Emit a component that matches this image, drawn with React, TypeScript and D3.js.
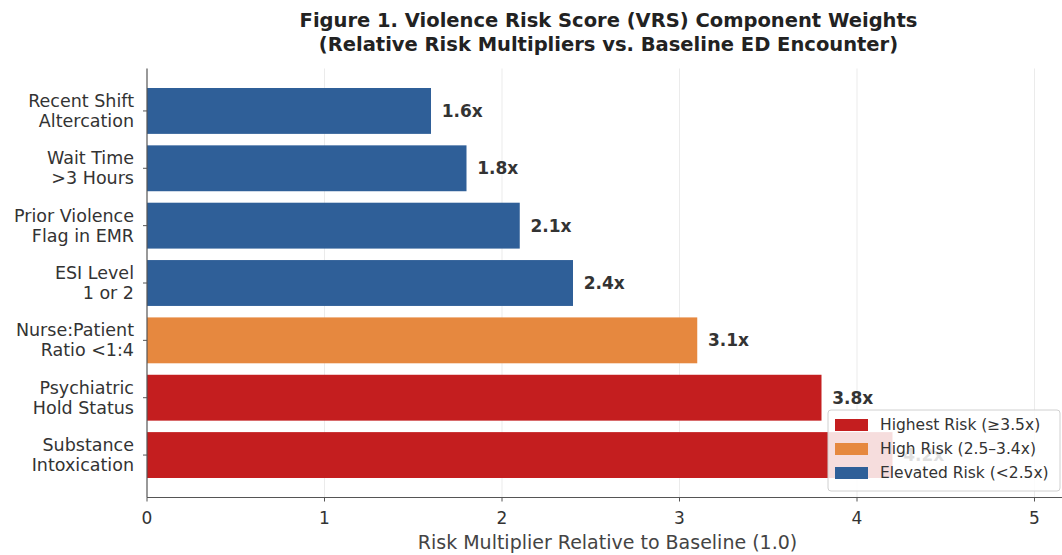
import React from "react";
import * as d3 from "d3";

const categories = [
  "Substance\nIntoxication",
  "Psychiatric\nHold Status",
  "Nurse:Patient\nRatio <1:4",
  "ESI Level\n1 or 2",
  "Prior Violence\nFlag in EMR",
  "Wait Time\n>3 Hours",
  "Recent Shift\nAltercation",
];
const values = [4.2, 3.8, 3.1, 2.4, 2.1, 1.8, 1.6];
const xTicks = [0, 1, 2, 3, 4, 5];
const legendLabels = ["Highest Risk (≥3.5x)", "High Risk (2.5–3.4x)", "Elevated Risk (<2.5x)"];
const legendColors = ["#c41e1f", "#e6883f", "#2f5f98"];

function colorFor(v: number) {
  if (v >= 3.5) return legendColors[0];
  if (v >= 2.5) return legendColors[1];
  return legendColors[2];
}

export default function App() {
  const W = 1062, H = 555;
  const left = 147, right = 1070, top = 68.5, bottom = 497.5;
  const x = d3.scaleLinear().domain([0, 5.2]).range([left, right]);
  const y = d3.scaleLinear().domain([-0.74, 6.74]).range([bottom, top]);
  const bandPx = Math.abs(y(1) - y(0));
  const barH = bandPx * 0.8;
  const font = "DejaVu Sans, sans-serif";
  const textCol = "#333333";

  return (
    <svg width={W} height={H} style={{ position: "absolute", left: 0, top: 0, background: "#fff" }} fontFamily={font}>
      {/* grid */}
      {xTicks.filter(t => t > 0).map(t => (
        <line key={"g" + t} x1={x(t)} x2={x(t)} y1={top} y2={bottom} stroke="#ebebeb" strokeWidth={1} />
      ))}
      {/* bars */}
      {values.map((v, i) => (
        <rect key={"b" + i} x={x(0)} y={y(i) - barH / 2} width={x(v) - x(0)} height={barH} fill={colorFor(v)} />
      ))}
      {/* value labels */}
      {values.map((v, i) => (
        <text key={"v" + i} x={x(v + 0.06)} y={y(i)} dy="0.35em" fontSize={17} fontWeight="bold" fill={textCol}>
          {v.toFixed(1) + "x"}
        </text>
      ))}
      {/* spines */}
      <line x1={left} x2={left} y1={top} y2={bottom} stroke="#555" strokeWidth={1.2} />
      <line x1={left} x2={right} y1={bottom} y2={bottom} stroke="#555" strokeWidth={1.2} />
      {/* x ticks */}
      {xTicks.map(t => (
        <g key={"xt" + t}>
          <line x1={x(t)} x2={x(t)} y1={bottom} y2={bottom + 4} stroke="#555" />
          <text x={x(t)} y={524} textAnchor="middle" fontSize={17} fill={textCol}>{t}</text>
        </g>
      ))}
      {/* y ticks */}
      {categories.map((c, i) => {
        const lines = c.split("\n");
        return (
          <g key={"yt" + i}>
            <line x1={left - 4} x2={left} y1={y(i)} y2={y(i)} stroke="#555" />
            {lines.map((ln, j) => (
              <text key={j} x={left - 13} y={y(i) + (j - (lines.length - 1) / 2) * 20} dy="0.35em" textAnchor="end" fontSize={17.5} fill={textCol}>
                {ln}
              </text>
            ))}
          </g>
        );
      })}
      {/* x label */}
      <text x={(left + right) / 2 - 1} y={549} textAnchor="middle" fontSize={19} fill="#444">
        Risk Multiplier Relative to Baseline (1.0)
      </text>
      {/* title */}
      <text x={(left + right) / 2} y={27} textAnchor="middle" fontSize={19.5} fontWeight="bold" fill="#222">
        Figure 1. Violence Risk Score (VRS) Component Weights
      </text>
      <text x={(left + right) / 2} y={51} textAnchor="middle" fontSize={19.5} fontWeight="bold" fill="#222">
        (Relative Risk Multipliers vs. Baseline ED Encounter)
      </text>
      {/* legend */}
      <g>
        <rect x={828} y={410} width={232} height={81} rx={3} fill="#fff" fillOpacity={0.85} stroke="#d0d0d0" />
        {legendLabels.map((l, i) => (
          <g key={"l" + i}>
            <rect x={835} y={419 + i * 24} width={33} height={12} fill={legendColors[i]} />
            <text x={880} y={425 + i * 24} dy="0.35em" fontSize={15.5} fill={textCol}>{l}</text>
          </g>
        ))}
      </g>
    </svg>
  );
}
